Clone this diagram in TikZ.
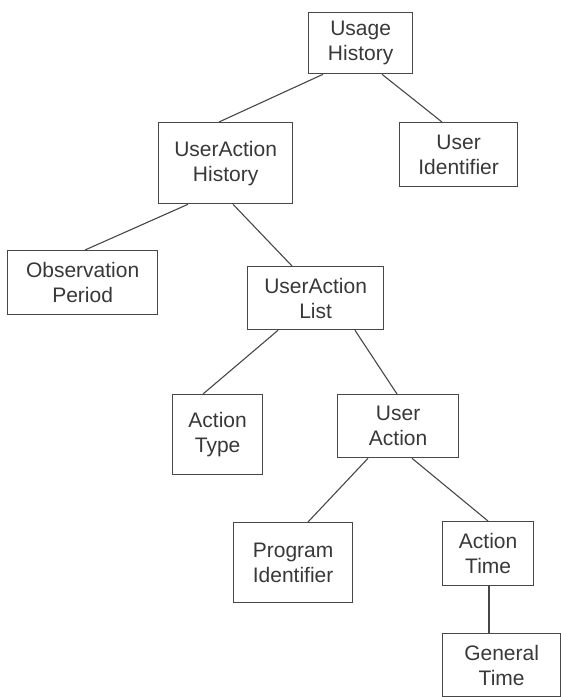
\documentclass[tikz,border=0pt]{standalone}
\usepackage{fontspec}
\setmainfont{Liberation Sans}
\begin{document}
\begin{tikzpicture}[x=1pt,y=-1pt,
  box/.style={draw=black!72, line width=1.3pt, rectangle, anchor=north west,
    inner sep=0pt, align=center, text=black!78,
    font=\fontsize{21}{25}\selectfont},
  link/.style={draw=black!72, line width=1.1pt}]
\useasboundingbox (0,0) rectangle (561,697);
\node[box, minimum width=104pt, minimum height=61pt] (uh) at (308,12) {Usage\\History};
\node[box, minimum width=118pt, minimum height=64pt] (ui) at (399,122) {User\\Identifier};
\node[box, minimum width=134pt, minimum height=81pt] (uah) at (158,122) {UserAction\\History};
\node[box, minimum width=150pt, minimum height=64pt] (op) at (7,250) {Observation\\Period};
\node[box, minimum width=136pt, minimum height=63pt] (ual) at (247,266) {UserAction\\List};
\node[box, minimum width=90pt, minimum height=80pt] (atype) at (172,394) {Action\\Type};
\node[box, minimum width=121pt, minimum height=63pt] (ua) at (337,394) {User\\Action};
\node[box, minimum width=119pt, minimum height=80pt] (pi) at (233,522) {Program\\Identifier};
\node[box, minimum width=91pt, minimum height=64pt] (atime) at (442,521) {Action\\Time};
\node[box, minimum width=118pt, minimum height=63pt] (gt) at (442,633) {General\\Time};

\draw[link] ([xshift=15pt]uh.south west) -- ([xshift=61pt]uah.north west);
\draw[link] ([xshift=74pt]uh.south west) -- ([xshift=43pt]ui.north west);
\draw[link] ([xshift=30pt]uah.south west) -- ([xshift=78pt]op.north west);
\draw[link] ([xshift=75pt]uah.south west) -- ([xshift=45pt]ual.north west);
\draw[link] ([xshift=31pt]ual.south west) -- ([xshift=31pt]atype.north west);
\draw[link] ([xshift=108pt]ual.south west) -- ([xshift=60pt]ua.north west);
\draw[link] ([xshift=31pt]ua.south west) -- ([xshift=75pt]pi.north west);
\draw[link] ([xshift=75pt]ua.south west) -- ([xshift=46pt]atime.north west);
\draw[link] ([xshift=47pt]atime.south west) -- ([xshift=47pt]gt.north west);
\end{tikzpicture}
\end{document}
